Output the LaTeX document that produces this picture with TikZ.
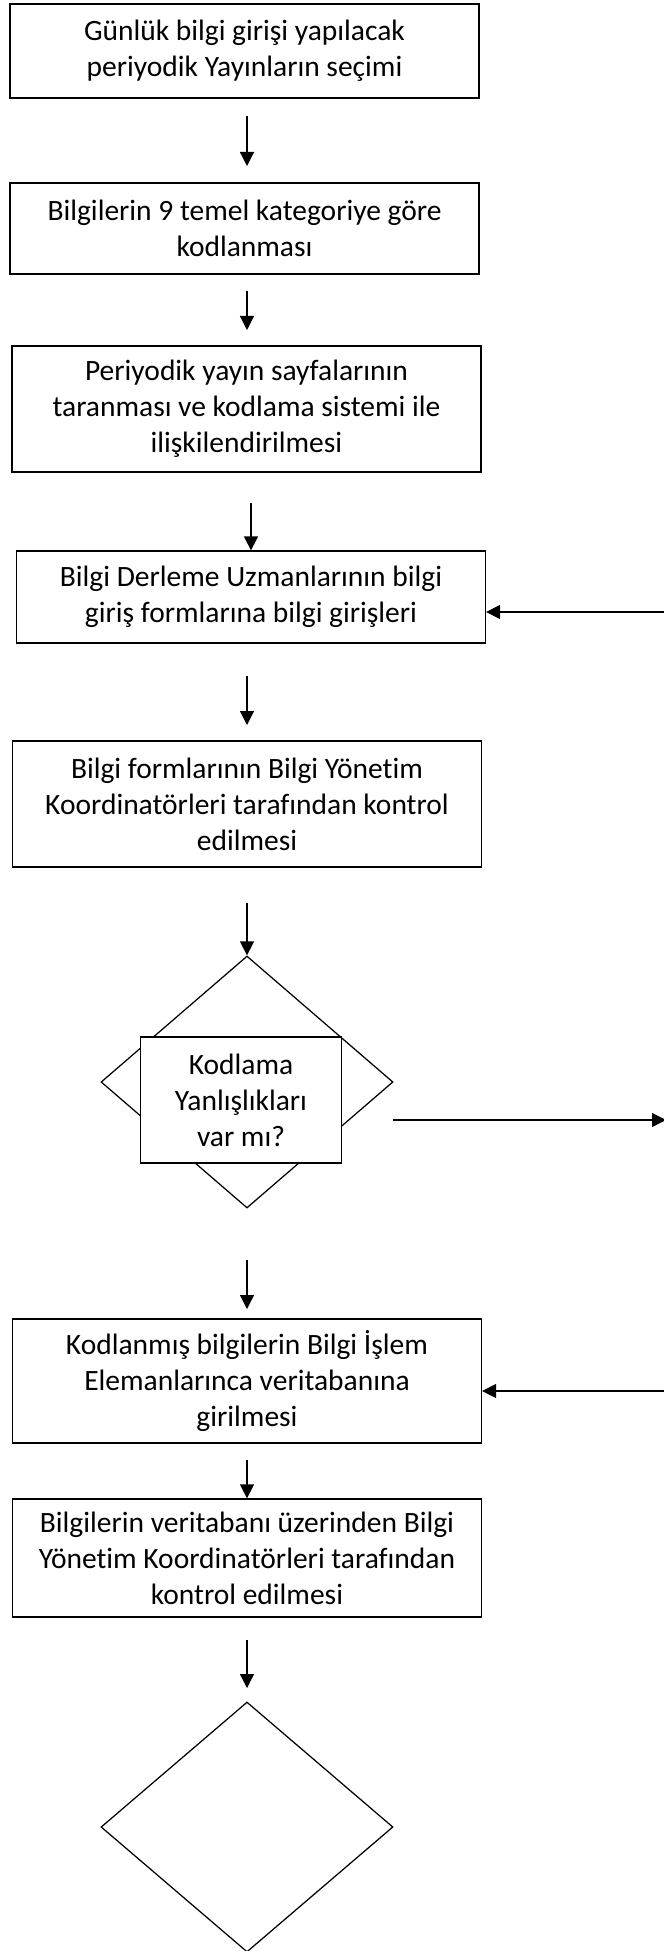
\documentclass[tikz,border=0pt]{standalone}
\usepackage{fontspec}
\setmainfont[Ligatures={NoCommon}]{Carlito}
\usetikzlibrary{shapes.geometric}
\usetikzlibrary{positioning}
\usetikzlibrary{arrows.meta}

\begin{document}
\begin{tikzpicture}[x=0.4pt,y=-0.4pt,
    font=\fontsize{11.8pt}{14.4pt}\selectfont,
    procbox/.style={draw, rectangle, fill=white, align=center, line width=0.5pt, inner sep=0pt, minimum width=187.6pt},
    decision/.style={draw, diamond, line width=0.5pt, inner sep=0pt, minimum width=116.8pt, minimum height=100.8pt},
    flow/.style={-{Triangle[length=5.6pt,width=5.6pt]}, line width=0.5pt}]
            \useasboundingbox (0,0) rectangle (664,1951);

            % Main column of steps
            \node[procbox, minimum height=37.6pt] (secim) at (244.5,51) {Günlük bilgi girişi yapılacak\\periyodik Yayınların seçimi};
            \node[procbox, minimum height=36.4pt] (kodlama) at (244.5,228.5) {Bilgilerin 9 temel kategoriye göre\\kodlanması};
            \node[procbox, minimum height=50.4pt] (tarama) at (246.5,409) {Periyodik yayın sayfalarının\\taranması ve kodlama sistemi ile\\ilişkilendirilmesi};
            \node[procbox, minimum height=36.8pt] (giris) at (251,597) {Bilgi Derleme Uzmanlarının bilgi\\giriş formlarına bilgi girişleri};
            \node[procbox, minimum height=50.4pt] (kontrol) at (247,804) {Bilgi formlarının Bilgi Yönetim\\Koordinatörleri tarafından kontrol\\edilmesi};

            % Decision with the question box on top
            \node[decision] (karar) at (247,1082) {};
            \node[procbox, minimum width=80.6pt, minimum height=50.4pt] (soru) at (241,1100) {Kodlama\\Yanlışlıkları\\var mı?};

            \node[procbox, minimum height=49.6pt] (vt) at (247,1381) {Kodlanmış bilgilerin Bilgi İşlem\\Elemanlarınca veritabanına\\girilmesi};
            \node[procbox, minimum height=47.2pt] (vtkontrol) at (247,1558) {Bilgilerin veritabanı üzerinden Bilgi\\Yönetim Koordinatörleri tarafından\\kontrol edilmesi};
            \node[decision, minimum height=100pt] (karar2) at (247,1827) {};

            % Arrow end points
            \coordinate (p1s) at (247,116);  \coordinate (p1e) at (247,166);
            \coordinate (p2s) at (247,291);  \coordinate (p2e) at (247,330);
            \coordinate (p3s) at (251,503);
            \coordinate (p4s) at (247,676);  \coordinate (p4e) at (247,725);
            \coordinate (p5s) at (247,903);
            \coordinate (p6s) at (247,1260); \coordinate (p6e) at (247,1309);
            \coordinate (p7s) at (247,1460);
            \coordinate (p8s) at (247,1640); \coordinate (p8e) at (247,1688);
            \coordinate (r1) at (664,612);
            \coordinate (r2s) at (393,1120); \coordinate (r2e) at (666,1120);
            \coordinate (r3) at (664,1391);

            % Downward arrows
            \draw[flow] (p1s) -- (p1e);
            \draw[flow] (p2s) -- (p2e);
            \draw[flow] (p3s) -- (giris.north);
            \draw[flow] (p4s) -- (p4e);
            \draw[flow] (p5s) -- (karar.north);
            \draw[flow] (p6s) -- (p6e);
            \draw[flow] (p7s) -- (vtkontrol.north);
            \draw[flow] (p8s) -- (p8e);

            % Side arrows
            \draw[flow] (r1) -- (r1 -| giris.east);
            \draw[flow] (r2s) -- (r2e);
            \draw[flow] (r3) -- (r3 -| vt.east);
        \end{tikzpicture}
\end{document}
